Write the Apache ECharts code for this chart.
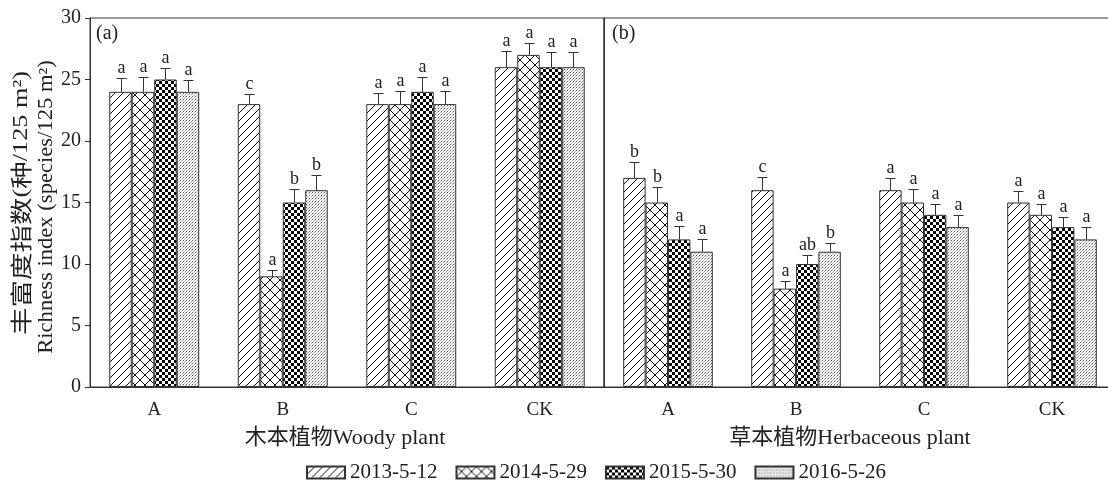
<!DOCTYPE html>
<html>
<head>
<meta charset="utf-8">
<script src="https://cdn.jsdelivr.net/npm/echarts@6/dist/echarts.min.js"></script>
<style>html,body{margin:0;padding:0;background:#fff}#chart{width:1108px;height:481px}</style>
</head>
<body>
<div id="chart"></div>
<script>
// ---------- DATA ----------
const categories = ['A', 'B', 'C', 'CK'];
const seriesNames = ['2013-5-12', '2014-5-29', '2015-5-30', '2016-5-26'];
const yTicks = [0, 5, 10, 15, 20, 25, 30];

// Woody plant (a)
const woody2013 = [24, 23, 23, 26];
const woody2014 = [24, 9, 23, 27];
const woody2015 = [25, 15, 24, 26];
const woody2016 = [24, 16, 23, 26];
const woodyErr2013 = [1.1, 0.8, 0.9, 1.3];
const woodyErr2014 = [1.2, 0.5, 1.1, 1.0];
const woodyErr2015 = [0.9, 1.1, 1.2, 1.2];
const woodyErr2016 = [1.0, 1.2, 1.1, 1.2];
const woodyLetters2013 = ['a', 'c', 'a', 'a'];
const woodyLetters2014 = ['a', 'a', 'a', 'a'];
const woodyLetters2015 = ['a', 'b', 'a', 'a'];
const woodyLetters2016 = ['a', 'b', 'a', 'a'];

// Herbaceous plant (b)
const herb2013 = [17, 16, 16, 15];
const herb2014 = [15, 8, 15, 14];
const herb2015 = [12, 10, 14, 13];
const herb2016 = [11, 11, 13, 12];
const herbErr2013 = [1.3, 1.1, 1.0, 0.9];
const herbErr2014 = [1.25, 0.6, 1.1, 0.9];
const herbErr2015 = [1.1, 0.7, 0.9, 0.8];
const herbErr2016 = [1.0, 0.7, 1.0, 1.0];
const herbLetters2013 = ['b', 'c', 'a', 'a'];
const herbLetters2014 = ['b', 'a', 'a', 'a'];
const herbLetters2015 = ['a', 'ab', 'a', 'a'];
const herbLetters2016 = ['a', 'b', 'a', 'a'];

const panelLabels = ['(a)', '(b)'];
const panelNames = ['木本植物Woody plant', '草本植物Herbaceous plant'];
const yNameCnParts = ['丰富度指数', '(', '种', '/125 m²)'];
const yNameEn = 'Richness index (species/125 m²)';

// ---------- STYLE ----------
const FONT = '"Liberation Serif", "Noto Sans CJK SC", serif';
const INK = '#333';
const TXT = '#222';

function makePattern(kind) {
  const c = document.createElement('canvas');
  let s = 8;
  if (kind === 'cross') s = 10;
  if (kind === 'check') s = 6;
  if (kind === 'dots') s = 3;
  c.width = s; c.height = s;
  const ctx = c.getContext('2d');
  ctx.fillStyle = '#fff';
  ctx.fillRect(0, 0, s, s);
  ctx.strokeStyle = '#111';
  ctx.lineWidth = 1;
  if (kind === 'diag' || kind === 'cross') {
    ctx.beginPath();
    ctx.moveTo(-1, s + 1); ctx.lineTo(s + 1, -1);
    ctx.moveTo(-1, 1); ctx.lineTo(1, -1);
    ctx.moveTo(s - 1, s + 1); ctx.lineTo(s + 1, s - 1);
    ctx.stroke();
  }
  if (kind === 'cross') {
    ctx.beginPath();
    ctx.moveTo(-1, -1); ctx.lineTo(s + 1, s + 1);
    ctx.moveTo(s - 1, -1); ctx.lineTo(s + 1, 1);
    ctx.moveTo(-1, s - 1); ctx.lineTo(1, s + 1);
    ctx.stroke();
  }
  if (kind === 'check') {
    ctx.fillStyle = '#000';
    ctx.fillRect(0, 0, 3, 3);
    ctx.fillRect(3, 3, 3, 3);
  }
  if (kind === 'dots') {
    ctx.fillStyle = '#555';
    ctx.fillRect(0, 0, 1, 1);
    ctx.fillStyle = '#aaa';
    ctx.fillRect(2, 1, 1, 1);
    ctx.fillStyle = '#bbb';
    ctx.fillRect(1, 2, 1, 1);
  }
  return { image: c, repeat: 'repeat' };
}
const patterns = [makePattern('diag'), makePattern('cross'), makePattern('check'), makePattern('dots')];

const panels = [
  { vals: [woody2013, woody2014, woody2015, woody2016],
    errs: [woodyErr2013, woodyErr2014, woodyErr2015, woodyErr2016],
    letters: [woodyLetters2013, woodyLetters2014, woodyLetters2015, woodyLetters2016] },
  { vals: [herb2013, herb2014, herb2015, herb2016],
    errs: [herbErr2013, herbErr2014, herbErr2015, herbErr2016],
    letters: [herbLetters2013, herbLetters2014, herbLetters2015, herbLetters2016] }
];

const CAT_GAP = 0.30;
const series = [];
panels.forEach((p, g) => {
  p.vals.forEach((vals, k) => {
    series.push({
      type: 'bar', name: seriesNames[k], xAxisIndex: g, yAxisIndex: g,
      data: vals, barGap: '0%', barCategoryGap: (CAT_GAP * 100) + '%',
      itemStyle: { color: patterns[k], borderColor: INK, borderWidth: 1 },
      emphasis: { disabled: true }
    });
  });
  const errData = [];
  const errLetters = [];
  p.vals.forEach((vals, k) => {
    vals.forEach((v, ci) => {
      errData.push([ci, k, v, p.errs[k][ci]]);
      errLetters.push(p.letters[k][ci]);
    });
  });
  series.push({
    type: 'custom', xAxisIndex: g, yAxisIndex: g, z: 10,
    encode: { x: 0, y: 2 },
    data: errData,
    renderItem: function (params, api) {
      const ci = api.value(0), k = api.value(1), v = api.value(2), e = api.value(3);
      const base = api.coord([ci, v]);
      const top = api.coord([ci, v + e]);
      const band = api.size([1, 0])[0];
      const bw = band * (1 - CAT_GAP) / 4;
      const x = Math.round(base[0] + (k - 1.5) * bw) + 0.5;
      const yb = base[1], yt = Math.round(top[1]) + 0.5;
      const letter = errLetters[params.dataIndex];
      return {
        type: 'group',
        children: [
          { type: 'line', shape: { x1: x, y1: yb, x2: x, y2: yt }, style: { stroke: INK, lineWidth: 1 } },
          { type: 'line', shape: { x1: x - 5, y1: yt, x2: x + 5, y2: yt }, style: { stroke: INK, lineWidth: 1 } },
          { type: 'text', x: x, y: yt - 1,
            style: { text: letter, textAlign: 'center', textVerticalAlign: 'bottom', align: 'center', verticalAlign: 'bottom',
                     fontSize: 18, fontFamily: FONT, fill: TXT } }
        ]
      };
    }
  });
});

const axisLineStyle = { lineStyle: { color: INK, width: 1 } };
const centered = { textAlign: 'center', textVerticalAlign: 'middle', align: 'center', verticalAlign: 'middle' };

const option = {
  animation: false,
  backgroundColor: '#fff',
  textStyle: { fontFamily: FONT },
  grid: [
    { left: 90, top: 18, width: 514, height: 369, show: true, borderColor: INK, borderWidth: 1, backgroundColor: 'transparent', outerBoundsMode: 'none', containLabel: false },
    { left: 604, top: 18, width: 512, height: 369, show: true, borderColor: INK, borderWidth: 1, backgroundColor: 'transparent', outerBoundsMode: 'none', containLabel: false }
  ],
  xAxis: [0, 1].map(i => ({
    type: 'category', gridIndex: i, data: categories,
    axisLine: axisLineStyle,
    axisTick: { alignWithLabel: true, length: 5, lineStyle: { color: INK } },
    axisLabel: { fontSize: 19, color: TXT, margin: 14, fontFamily: FONT }
  })),
  yAxis: [
    { type: 'value', gridIndex: 0, min: yTicks[0], max: yTicks[yTicks.length - 1], interval: yTicks[1] - yTicks[0],
      axisLine: Object.assign({ show: true }, axisLineStyle),
      axisTick: { show: true, length: 5, lineStyle: { color: INK } },
      splitLine: { show: false },
      axisLabel: { fontSize: 20, color: TXT, margin: 9, fontFamily: FONT } },
    { type: 'value', gridIndex: 1, min: yTicks[0], max: yTicks[yTicks.length - 1], interval: yTicks[1] - yTicks[0],
      axisLine: Object.assign({ show: true }, axisLineStyle),
      axisTick: { show: false }, splitLine: { show: false }, axisLabel: { show: false } }
  ],
  legend: {
    data: seriesNames, left: 301, top: 457, itemWidth: 38, itemHeight: 12, itemGap: 18,
    icon: 'rect', selectedMode: false,
    textStyle: { fontSize: 21, color: TXT, fontFamily: FONT }
  },
  graphic: [
    { type: 'text', left: 96, top: 24, style: { text: panelLabels[0], font: '20px ' + FONT, fill: TXT } },
    { type: 'text', left: 612, top: 24, style: { text: panelLabels[1], font: '20px ' + FONT, fill: TXT } },
    { type: 'text', x: 345, y: 438, style: Object.assign({ text: panelNames[0], font: '22px ' + FONT, fill: TXT }, centered) },
    { type: 'text', x: 850, y: 438, style: Object.assign({ text: panelNames[1], font: '22px ' + FONT, fill: TXT }, centered) },
    { type: 'text', x: 21, y: 203, rotation: Math.PI / 2, scaleX: 1.25,
      style: Object.assign({
        text: '{cn|' + yNameCnParts[0] + '}{lt|' + yNameCnParts[1] + '}{cn|' + yNameCnParts[2] + '}{lt|' + yNameCnParts[3] + '}',
        fill: TXT,
        rich: {
          cn: { fontSize: 22, fontFamily: '"Noto Sans CJK SC"', fill: TXT },
          lt: { fontSize: 21, fontFamily: FONT, fill: TXT }
        }
      }, centered) },
    { type: 'text', x: 47, y: 207, rotation: Math.PI / 2, scaleX: 1.13,
      style: Object.assign({ text: yNameEn, font: '20px ' + FONT, fill: TXT }, centered) }
  ],
  series: series
};

const chart = echarts.init(document.getElementById('chart'), null, { renderer: 'canvas' });
chart.setOption(option);
</script>
</body>
</html>
